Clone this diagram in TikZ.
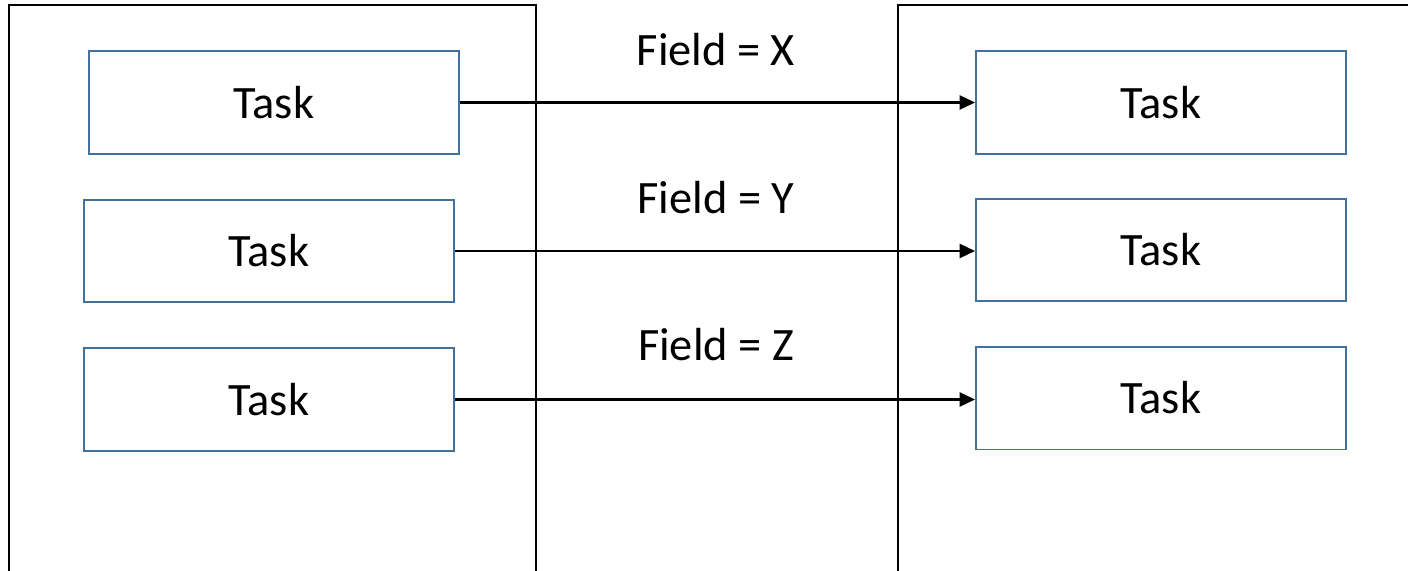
\documentclass[tikz,border=0pt]{standalone}
\usepackage{fontspec}
\setmainfont{Carlito}
\usepackage{tikz}
\usetikzlibrary{arrows.meta}
\definecolor{taskblue}{RGB}{65,113,156}

\begin{document}
\begin{tikzpicture}[x=0.025cm,y=-0.025cm,
  task/.style={draw=taskblue, line width=1.3pt, minimum width=9.25cm, minimum height=2.57cm, inner sep=0pt, font=\fontsize{33}{40}\selectfont},
  frame/.style={line width=1.8pt},
  link/.style={line width=1.8pt, -{Triangle[length=11pt,width=10pt]}},
  lbl/.style={font=\fontsize{33}{40}\selectfont}]
\useasboundingbox (0,0) rectangle (1408,571);
% the two big frames, cut off by the page edge
\draw [frame] (9,572) -- (9,5) -- (536,5) -- (536,572);
\draw [frame] (898,572) -- (898,5) -- (1409,5);
% tasks on the left
\node [task] (l1) at (274,102.5) {Task};
\node [task] (l2) at (269,251) {Task};
\node [task] (l3) at (269,399.5) {Task};
% tasks on the right
\node [task] (r1) at (1161,102.5) {Task};
\node [task] (r2) at (1161,250) {Task};
\node [task] (r3) at (1161,398) {Task};
% links
\draw [link] (l1.east) -- (l1.east -| r1.west);
\draw [link] (l2.east) -- (l2.east -| r2.west);
\draw [link] (l3.east) -- (l3.east -| r3.west);
\node [lbl] (fx) at (716,50) {Field = X};
\node [lbl] (fy) at (716,198) {Field = Y};
\node [lbl] (fz) at (716,345) {Field = Z};
\end{tikzpicture}
\end{document}
